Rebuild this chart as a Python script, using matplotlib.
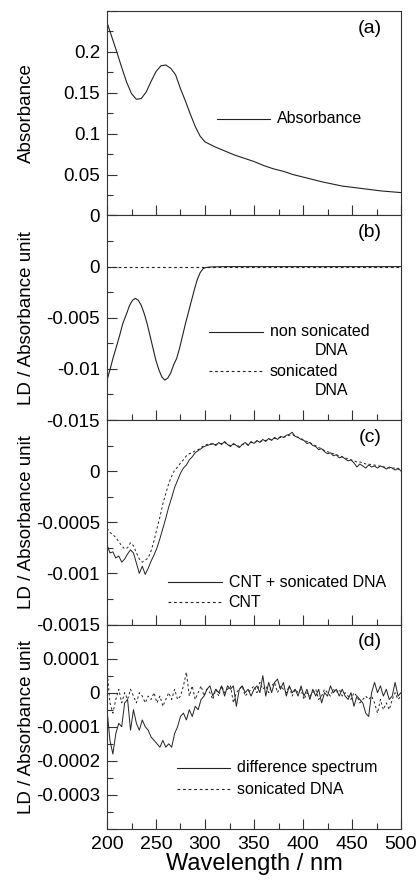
import matplotlib
matplotlib.use("Agg")
import matplotlib.pyplot as plt
import numpy as np
from matplotlib.ticker import MultipleLocator, FuncFormatter

plt.rcParams['font.family'] = ['Liberation Sans', 'DejaVu Sans']

# (a) absorbance
wl_a = [200, 205, 210, 215, 220, 225, 230, 235, 240, 245, 250, 255, 260, 265,
        270, 275, 280, 285, 290, 295, 300, 310, 320, 330, 340, 350, 360, 370,
        380, 390, 400, 420, 440, 460, 480, 500]
absorbance = [0.236, 0.218, 0.200, 0.181, 0.163, 0.149, 0.142, 0.143, 0.151,
              0.164, 0.176, 0.183, 0.184, 0.180, 0.172, 0.155, 0.140, 0.124,
              0.109, 0.097, 0.090, 0.084, 0.079, 0.074, 0.070, 0.066, 0.061,
              0.057, 0.054, 0.050, 0.047, 0.041, 0.036, 0.033, 0.030, 0.028]

# (b) LD, x1e-3
wl_b = [200, 203, 206, 210, 213, 216, 220, 223, 226, 229, 232, 235, 238, 241,
        244, 247, 250, 253, 256, 259, 262, 265, 268, 271, 274, 277, 280, 283,
        286, 289, 292, 295, 298, 301, 305, 310, 320, 350, 400, 450, 500]
ld_nonsonicated = [-11.1, -10.1, -9.0, -7.7, -6.7, -5.6, -4.6, -3.8, -3.3, -3.1,
                   -3.3, -3.8, -4.6, -5.6, -6.8, -8.0, -9.2, -10.1, -10.8, -11.1,
                   -10.9, -10.4, -9.6, -9.0, -8.0, -6.8, -5.6, -4.5, -3.4, -2.3,
                   -1.3, -0.6, -0.2, -0.08, -0.04, -0.02, 0, 0, 0, 0, 0]
ld_sonicated = [0] * len(wl_b)

# (c) and (d) sampled every 3 nm
wl_cd = np.arange(200, 501, 3)

# (c) x1e-4
ld_cnt_dna = [-7.2, -8.0, -7.9, -8.5, -8.3, -8.9, -8.6, -8.1, -7.7, -8.0,
              -9.0, -10.0, -9.3, -10.1, -9.5, -8.8, -8.2, -7.5, -6.6, -5.6,
              -4.6, -3.5, -2.6, -1.6, -0.9, -0.2, 0.3, 0.6, 1.1, 1.4,
              1.8, 2.0, 2.2, 2.4, 2.5, 2.6, 2.7, 2.5, 2.8, 2.6,
              2.9, 2.6, 2.4, 2.7, 2.5, 2.3, 2.6, 2.8, 2.5, 2.9,
              2.7, 3.0, 2.8, 3.1, 2.9, 3.2, 3.0, 3.3, 3.1, 3.4,
              3.3, 3.5, 3.6, 3.8, 3.4, 3.3, 3.1, 3.0, 2.7, 2.8,
              2.5, 2.4, 2.1, 2.2, 1.9, 1.7, 1.8, 1.5, 1.6, 1.3,
              1.4, 1.2, 1.0, 1.1, 0.8, 0.4, 0.7, 0.5, 0.3, 0.6,
              0.4, 0.5, 0.3, 0.5, 0.4, 0.2, 0.4, 0.3, 0.1, 0.3,
              0.0]
ld_cnt = [-5.6, -6.0, -6.2, -6.5, -6.9, -7.3, -7.6, -7.5, -7.0, -7.3,
          -8.0, -8.6, -8.9, -8.7, -8.5, -7.8, -6.8, -5.6, -4.5, -3.2,
          -2.2, -1.2, -0.5, 0.1, 0.4, 0.8, 1.1, 1.5, 1.7, 1.8,
          2.0, 2.1, 2.3, 2.5, 2.6, 2.7, 2.6, 2.6, 2.7, 2.7,
          2.8, 2.6, 2.5, 2.6, 2.6, 2.4, 2.6, 2.7, 2.6, 2.8,
          2.8, 2.9, 2.9, 3.0, 3.0, 3.1, 3.1, 3.2, 3.2, 3.3,
          3.3, 3.4, 3.5, 3.6, 3.4, 3.3, 3.2, 3.0, 2.9, 2.8,
          2.6, 2.5, 2.3, 2.2, 2.0, 1.9, 1.8, 1.7, 1.6, 1.5,
          1.4, 1.3, 1.2, 1.1, 1.0, 0.9, 0.9, 0.8, 0.7, 0.7,
          0.6, 0.6, 0.5, 0.5, 0.4, 0.4, 0.3, 0.3, 0.3, 0.2,
          0.1]

# (d) x1e-5
ld_difference = [-5, -14, -18, -12, -9, -10, -3, -2, -11, -5,
                 -9, -11, -8, -10, -11, -13, -14, -15, -16, -14,
                 -16, -15, -16, -12, -10, -7, -6, -8, -5, -7,
                 -4, -5, -2, -1, 1, 2, -1, 1, 0, 2,
                 -1, 2, 1, 2, -4, 1, 2, 0, 1, -1,
                 1, 2, 0, 5, -1, 3, 0, 3, 4, 1,
                 3, -1, 2, 0, 1, -1, 2, -1, 1, -2,
                 1, -1, 1, -3, 0, -1, 2, 0, 1, -1,
                 1, -1, -2, 0, -4, -1, -2, -3, -6, -7,
                 0, 3, 0, 2, -1, 1, -2, -1, 3, -1,
                 0]
ld_sonicated_d = [7, -3, -6, -2, 1, -3, 0, -2, 1, -1,
                  -3, 0, -1, -3, -1, -2, 0, -3, -1, -4,
                  -2, 0, -2, 1, -2, -1, 2, 6, -1, 2,
                  -2, 0, 2, -1, 1, 0, -2, 1, -1, 2,
                  0, 1, 2, -3, 0, 1, 2, -1, 0, 1,
                  2, 0, 3, 1, 2, 0, 2, 3, 0, 2,
                  1, 0, 2, -1, 1, 0, 1, -2, 0, -1,
                  0, 1, -2, -1, 1, 0, -1, 1, 0, 1,
                  -1, 0, -1, -2, 0, -1, -3, -2, -1, -2,
                  -1, -3, -6, -2, -5, -3, -5, -2, 0, -2,
                  -1]

line_col = '#222222'
dot_style = (0, (2.5, 2.5))

fig = plt.figure(figsize=(4.2, 8.8), dpi=100)
left, width = 107 / 420, 294 / 420
bottom, panel_h = 51 / 880, 204.5 / 880
axes = [fig.add_axes([left, bottom + (3 - i) * panel_h, width, panel_h]) for i in range(4)]
ax_a, ax_b, ax_c, ax_d = axes


def make_fmt(hidden):
    def fmt(v, pos):
        v = round(v, 8)
        if abs(v) < 1e-12:
            v = 0.0
        for h in hidden:
            if abs(v - h) < 1e-9:
                return ''
        return '%g' % v
    return fmt


ax_a.plot(wl_a, absorbance, color=line_col, lw=0.8)
ax_b.plot(wl_b, np.array(ld_nonsonicated) * 1e-3, color=line_col, lw=0.8)
ax_b.plot(wl_b, np.array(ld_sonicated) * 1e-3, color=line_col, lw=0.8, ls=dot_style)
ax_c.plot(wl_cd, np.array(ld_cnt_dna) * 1e-4, color=line_col, lw=0.7)
ax_c.plot(wl_cd, np.array(ld_cnt) * 1e-4, color=line_col, lw=0.7, ls=dot_style)
ax_d.plot(wl_cd, np.array(ld_difference) * 1e-5, color=line_col, lw=0.7)
ax_d.plot(wl_cd, np.array(ld_sonicated_d) * 1e-5, color=line_col, lw=0.7, ls=dot_style)

ax_a.set_ylim(0, 0.25)
ax_b.set_ylim(-0.015, 0.005)
ax_c.set_ylim(-0.0015, 0.0005)
ax_d.set_ylim(-0.0004, 0.0002)

steps = [(0.05, 0.025, [0.25]), (0.005, 0.0025, [0.005]),
         (0.0005, 0.00025, [0.0005]), (0.0001, 0.00005, [0.0002, -0.0004])]
for ax, (maj, mnr, hidden) in zip(axes, steps):
    ax.set_xlim(200, 500)
    ax.xaxis.set_major_locator(MultipleLocator(50))
    ax.xaxis.set_minor_locator(MultipleLocator(25))
    ax.yaxis.set_major_locator(MultipleLocator(maj))
    ax.yaxis.set_minor_locator(MultipleLocator(mnr))
    ax.yaxis.set_major_formatter(FuncFormatter(make_fmt(hidden)))
    ax.tick_params(which='both', direction='in', top=False, right=False,
                   width=0.8, color='#333333', labelsize=13.5, pad=5)
    ax.tick_params(axis='x', labelsize=14)
    ax.tick_params(which='major', length=7)
    ax.tick_params(which='minor', length=4.5)
    for s in ax.spines.values():
        s.set_linewidth(0.8)
        s.set_color('#333333')
    if ax is not ax_d:
        ax.tick_params(labelbottom=False)
    ax.yaxis.set_label_coords(-0.245, 0.5)

ax_a.set_ylabel('Absorbance', fontsize=13.5)
for ax in (ax_b, ax_c, ax_d):
    ax.set_ylabel('LD / Absorbance unit', fontsize=13.5)
ax_d.set_xlabel('Wavelength / nm', fontsize=17, labelpad=0)

for ax, lab in zip(axes, ['(a)', '(b)', '(c)', '(d)']):
    ax.text(0.895, 0.915, lab, transform=ax.transAxes, fontsize=14,
            ha='center', va='center')

leg_fs = 11.5


def legend_entry(ax, x0, x1, y, dotted, label, tx):
    ax.plot([x0, x1], [y, y], transform=ax.transAxes, color=line_col, lw=0.8,
            ls=dot_style if dotted else '-')
    ax.text(tx, y, label, transform=ax.transAxes, fontsize=leg_fs,
            ha='left', va='center')


legend_entry(ax_a, 0.374, 0.554, 0.473, False, 'Absorbance', 0.578)

legend_entry(ax_b, 0.347, 0.531, 0.431, False, 'non sonicated', 0.554)
ax_b.text(0.707, 0.338, 'DNA', transform=ax_b.transAxes, fontsize=leg_fs, ha='left', va='center')
legend_entry(ax_b, 0.347, 0.531, 0.238, True, 'sonicated', 0.554)
ax_b.text(0.707, 0.143, 'DNA', transform=ax_b.transAxes, fontsize=leg_fs, ha='left', va='center')

legend_entry(ax_c, 0.207, 0.391, 0.207, False, 'CNT + sonicated DNA', 0.414)
legend_entry(ax_c, 0.207, 0.391, 0.109, True, 'CNT', 0.414)

legend_entry(ax_d, 0.238, 0.418, 0.299, False, 'difference spectrum', 0.441)
legend_entry(ax_d, 0.238, 0.418, 0.194, True, 'sonicated DNA', 0.441)

fig.savefig('out.png', dpi=100)
